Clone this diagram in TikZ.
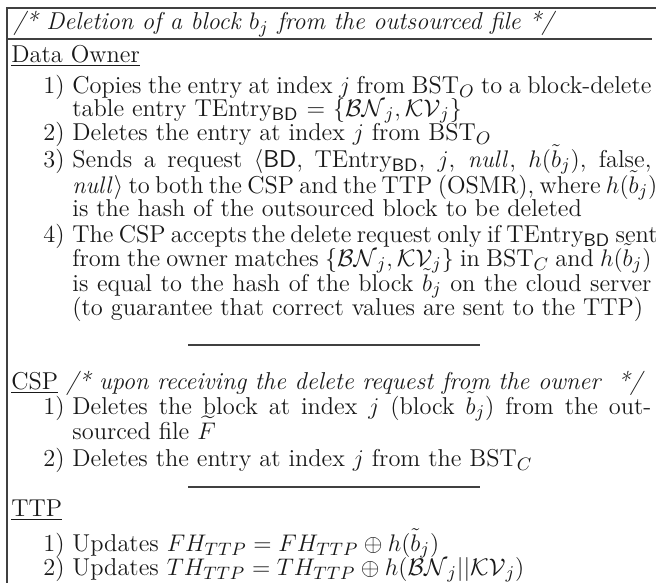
\documentclass[tikz,border=0pt]{standalone}
\usepackage{amsmath,amssymb}
\newcommand{\jl}[1]{\hbox to 289.5pt{#1}}
\newcommand{\BDs}{_{\mathsf{BD}}}
\begin{document}
\begin{tikzpicture}[x=0.5pt,y=-0.5pt,
  txt/.style={anchor=base west, inner sep=0pt, font=\fontsize{12.2}{14}\selectfont, text=black!90},
  frameline/.style={draw=black!75, line width=1pt},
  sepline/.style={draw=black!75, line width=0.8pt}]
\useasboundingbox (0,0) rectangle (656,583);
% frame
\coordinate (tl) at (7,8);
\coordinate (tr) at (656,8);
\coordinate (bl) at (7,583);
\coordinate (hl) at (7,39);
\coordinate (hr) at (652,39);
\draw[frameline] (tr) -- (tl) -- (bl);
\draw[frameline] (hl) -- (hr);
% header
\node[txt] (head) at (13,30) {\itshape /* Deletion of a block $b_j$ from the outsourced file */};
% Data owner
\node[txt] (do) at (11,62) {\underline{Data Owner}};
\node[txt] (n1) at (43,93) {1)};
\node[txt] (l1a) at (72,93) {\jl{Copies the entry at index $j$ from BST$_O$ to a block-delete}};
\node[txt] (l1b) at (72,116) {table entry TEntry$\BDs$ = $\{\mathcal{BN}_j, \mathcal{KV}_j\}$};
\node[txt] (n2) at (43,140) {2)};
\node[txt] (l2a) at (72,140) {Deletes the entry at index $j$ from BST$_O$};
\node[txt] (n3) at (43,167) {3)};
\node[txt] (l3a) at (72,167) {\jl{Sends a request $\langle$\textsf{BD}, TEntry$\BDs$, $j$, $\mathit{null}$, $h(\tilde{b}_j)$, false,}};
\node[txt] (l3b) at (72,193) {\jl{$\mathit{null}\rangle$ to both the CSP and the TTP (OSMR), where $h(\tilde{b}_j)$}};
\node[txt] (l3c) at (72,216) {is the hash of the outsourced block to be deleted};
\node[txt] (n4) at (43,242) {4)};
\node[txt] (l4a) at (72,242) {\jl{The CSP accepts the delete request only if TEntry$\BDs$ sent}};
\node[txt] (l4b) at (72,266) {\jl{from the owner matches $\{\mathcal{BN}_j, \mathcal{KV}_j\}$ in BST$_C$ and $h(\tilde{b}_j)$}};
\node[txt] (l4c) at (72,291) {\jl{is equal to the hash of the block $\tilde{b}_j$ on the cloud server}};
\node[txt] (l4d) at (72,315) {(to guarantee that correct values are sent to the TTP)};
% separator 1
\coordinate (s1a) at (188,345);
\coordinate (s1b) at (480,345);
\draw[sepline] (s1a) -- (s1b);
% CSP
\node[txt] (csp) at (11,389) {\underline{CSP} \textit{/* upon receiving the delete request from the owner\ \ */}};
\node[txt] (c1) at (43,414) {1)};
\node[txt] (c1a) at (72,414) {\jl{Deletes the block at index $j$ (block $\tilde{b}_j$) from the out-}};
\node[txt] (c1b) at (72,439) {sourced file $\widetilde{F}$};
\node[txt] (c2) at (43,466) {2)};
\node[txt] (c2a) at (72,466) {Deletes the entry at index $j$ from the BST$_C$};
% separator 2
\coordinate (s2a) at (188,487);
\coordinate (s2b) at (480,487);
\draw[sepline] (s2a) -- (s2b);
% TTP
\node[txt] (ttp) at (11,516) {\underline{TTP}};
\node[txt] (t1) at (43,551) {1)};
\node[txt] (t1a) at (72,551) {Updates $FH_{TTP} = FH_{TTP} \oplus h(\tilde{b}_j)$};
\node[txt] (t2) at (43,575) {2)};
\node[txt] (t2a) at (72,575) {Updates $TH_{TTP} = TH_{TTP} \oplus h(\mathcal{BN}_j || \mathcal{KV}_j)$};
\end{tikzpicture}
\end{document}
